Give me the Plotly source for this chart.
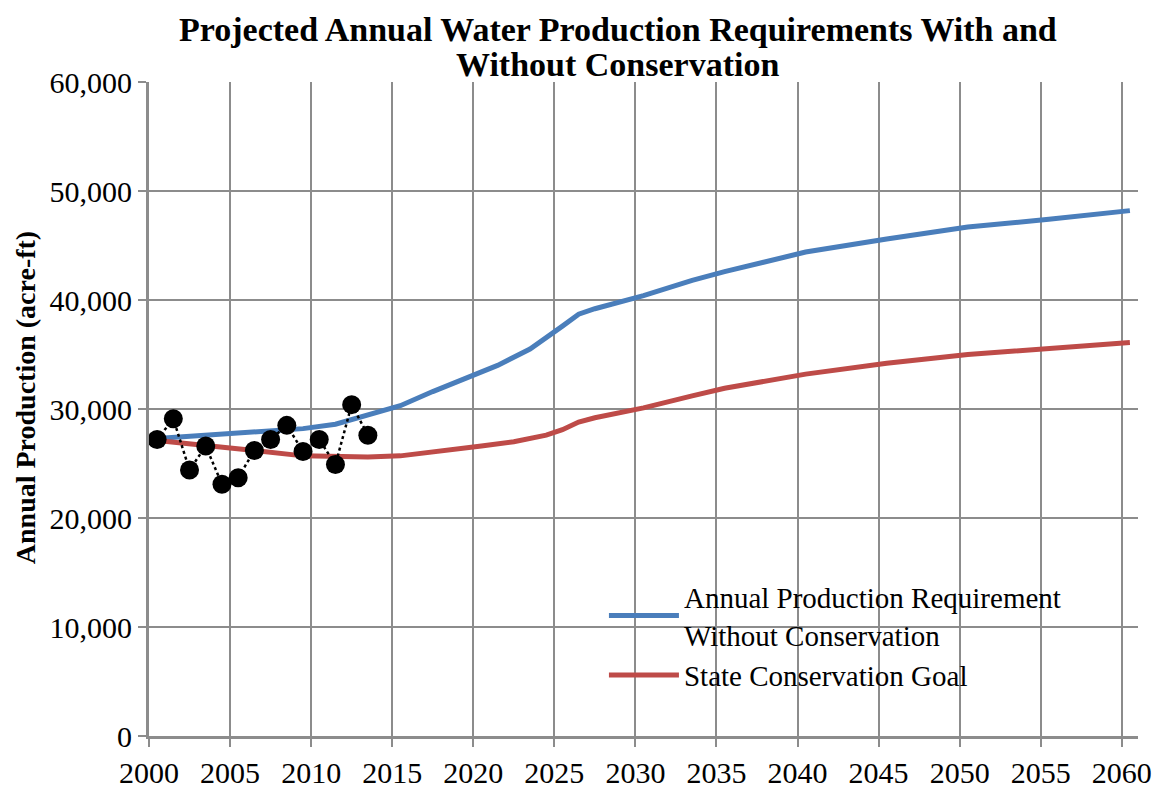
import plotly.graph_objects as go

# Historical annual production (acre-ft)
hist_years = [2000, 2001, 2002, 2003, 2004, 2005, 2006, 2007, 2008, 2009, 2010, 2011, 2012, 2013]
hist_values = [27200, 29100, 24400, 26600, 23100, 23700, 26200, 27200, 28500, 26100, 27200, 24900, 30400, 27600]

# Annual production requirement without conservation
req_years = [2000, 2003, 2006, 2009, 2011, 2013, 2015, 2017, 2019, 2021, 2023, 2024, 2025, 2026, 2027,
             2030, 2033, 2035, 2040, 2045, 2050, 2055, 2060]
req_values = [27300, 27600, 27800, 28200, 28600, 29400, 30300, 31600, 32800, 34000, 35500, 36500, 37600,
              38700, 39200, 40400, 41800, 42600, 44400, 45600, 46700, 47400, 48200]

# State conservation goal
goal_years = [2000, 2003, 2006, 2009, 2011, 2013, 2015, 2018, 2020, 2022, 2024, 2025, 2026, 2027,
              2030, 2033, 2035, 2040, 2045, 2050, 2055, 2060]
goal_values = [27100, 26700, 26200, 25700, 25600, 25600, 25700, 26200, 26600, 27000, 27600, 28100, 28800,
               29200, 30100, 31200, 31900, 33200, 34200, 35000, 35600, 36100]

tick_years = [2000, 2005, 2010, 2015, 2020, 2025, 2030, 2035, 2040, 2045, 2050, 2055, 2060]
y_ticks = [0, 10000, 20000, 30000, 40000, 50000, 60000]

title_lines = ["Projected Annual Water Production Requirements With and", "Without Conservation"]
y_title = "Annual Production (acre-ft)"

BLUE = "#4A7EBB"
RED = "#BE4B48"
GRID = "#8c8c8c"
SERIF = "Liberation Serif, Times New Roman, serif"

fig = go.Figure()

fig.add_trace(go.Scatter(
    x=req_years, y=req_values, mode="lines",
    name="Annual Production Requirement<br>Without Conservation",
    line=dict(color=BLUE, width=5),
))
fig.add_trace(go.Scatter(
    x=goal_years, y=goal_values, mode="lines",
    name="State Conservation Goal",
    line=dict(color=RED, width=5),
))
fig.add_trace(go.Scatter(
    x=hist_years, y=hist_values, mode="lines+markers",
    name="Historical", showlegend=False,
    line=dict(color="black", width=2.5, dash="dot"),
    marker=dict(color="black", size=19),
))

# the page body adds an 8px offset, so the figure is sized/margined to compensate
fig.update_layout(
    width=1160, height=780,
    paper_bgcolor="white", plot_bgcolor="white",
    margin=dict(l=141, r=30, t=74, b=52, autoexpand=False),
    font=dict(family=SERIF, color="black"),
    showlegend=True,
    legend=dict(
        x=0.46, y=0.252, xanchor="left", yanchor="top",
        bgcolor="rgba(255,255,255,0)",
        font=dict(family=SERIF, size=29, color="black"),
        itemwidth=70, tracegroupgap=0,
    ),
    annotations=[
        dict(text=f"<b>{title_lines[0]}</b>", xref="paper", yref="paper",
             x=0.474, y=1.081, xanchor="center", yanchor="middle", showarrow=False,
             font=dict(family=SERIF, size=34, color="black")),
        dict(text=f"<b>{title_lines[1]}</b>", xref="paper", yref="paper",
             x=0.474, y=1.026, xanchor="center", yanchor="middle", showarrow=False,
             font=dict(family=SERIF, size=34, color="black")),
        dict(text=f"<b>{y_title}</b>", xref="paper", yref="paper", textangle=-90,
             x=-0.1254, y=0.518, xanchor="center", yanchor="middle", showarrow=False,
             font=dict(family=SERIF, size=28, color="black")),
    ],
)

fig.update_xaxes(
    range=[1999.5, 2060.5],
    tickvals=[y - 0.5 for y in tick_years],
    ticktext=[str(y) for y in tick_years],
    showgrid=True, gridcolor=GRID, gridwidth=2,
    showline=True, linecolor=GRID, linewidth=3,
    ticks="outside", ticklen=8, tickcolor=GRID, tickwidth=2,
    tickfont=dict(family=SERIF, size=30, color="black"),
    zeroline=False, automargin=False,
)
fig.update_yaxes(
    range=[0, 60000],
    tickvals=y_ticks,
    ticktext=[f"{v:,}" for v in y_ticks],
    showgrid=True, gridcolor=GRID, gridwidth=2,
    showline=True, linecolor=GRID, linewidth=3,
    ticks="outside", ticklen=8, tickcolor=GRID, tickwidth=2,
    tickfont=dict(family=SERIF, size=30, color="black"),
    zeroline=False, automargin=False,
)

fig.write_html("out.html")
